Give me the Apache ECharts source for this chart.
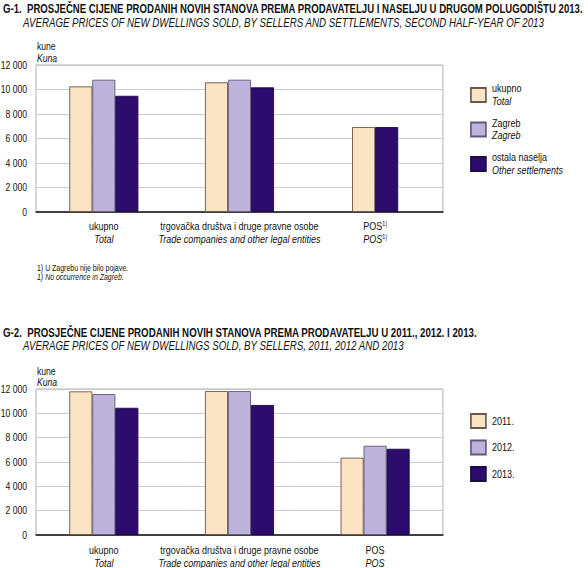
<!DOCTYPE html>
<html>
<head>
<meta charset="utf-8">
<script src="https://cdn.jsdelivr.net/npm/echarts@6/dist/echarts.min.js"></script>
<style>
html,body{margin:0;padding:0;background:#fff;overflow:hidden;width:588px;height:568px;}
#c{width:717px;height:568px;transform:scaleX(0.82);transform-origin:0 0;}
</style>
</head>
<body>
<div id="c"></div>
<script>
// ---- data ----
const categoriesHr = ['ukupno', 'trgovačka društva i druge pravne osobe', 'POS'];
const categoriesEn = ['Total', 'Trade companies and other legal entities', 'POS'];

// G-1: second half-year 2013, by settlements
const g1SeriesHr = ['ukupno', 'Zagreb', 'ostala naselja'];
const g1SeriesEn = ['Total', 'Zagreb', 'Other settlements'];
const g1Total = [10260, 10590, 6940];
const g1Zagreb = [10800, 10800, null]; // 1) no occurrence in Zagreb
const g1Other = [9490, 10180, 6940];

// G-2: by years
const g2Years = ['2011.', '2012.', '2013.'];
const g2Y2011 = [11810, 11840, 6360];
const g2Y2012 = [11590, 11840, 7340];
const g2Y2013 = [10460, 10690, 7090];

const yTicks = [0, 2000, 4000, 6000, 8000, 10000, 12000];

// ---- styles ----
// The page is drawn at a wider width and narrowed horizontally (narrow typeface look)
const S = 0.82;
const X = px => px / S;
const FONT = "'Liberation Sans',Arial,sans-serif";
const fills = ['#fbe4c4', '#beb3da', '#2c0c6c'];
const borders = ['#6a5848', '#625878', '#1c0a44'];

const chart = echarts.init(document.getElementById('c'), null, {renderer: 'svg'});

function yAxisDef(gi) {
  return {
    type: 'value', gridIndex: gi, min: yTicks[0], max: yTicks[yTicks.length - 1], interval: 2000,
    axisLine: {show: false}, axisTick: {show: false},
    splitLine: {lineStyle: {color: '#c8c8c8', width: 1}},
    axisLabel: {
      margin: X(9), color: '#111', fontFamily: FONT, fontSize: 10.5,
      formatter: v => v >= 1000 ? Math.floor(v / 1000) + ' ' + String(v % 1000).padStart(3, '0') : String(v)
    }
  };
}

function catLabel(sup, margin) {
  return {
    interval: 0, margin: margin, color: '#111', fontFamily: FONT, lineHeight: 13,
    formatter: (v, i) => {
      const s = (sup && i === 2) ? '{s|1)}' : '';
      return '{a|' + categoriesHr[i] + '}' + s + '\n{b|' + categoriesEn[i] + '}' + s;
    },
    rich: {
      a: {fontFamily: FONT, fontSize: 11, color: '#111', lineHeight: 13},
      b: {fontFamily: FONT, fontSize: 11, fontStyle: 'italic', color: '#111', lineHeight: 13},
      s: {fontFamily: FONT, fontSize: 6.5, color: '#111', verticalAlign: 'top', lineHeight: 13, padding: [0, 0, 6, 0]}
    }
  };
}

function xAxisDef(gi, show, sup, margin) {
  return {
    type: 'category', gridIndex: gi, data: categoriesHr, show: show,
    axisLine: {lineStyle: {color: '#111', width: 1.5}}, axisTick: {show: false},
    axisLabel: catLabel(sup, margin)
  };
}

function bar(name, data, idx, xi, yi) {
  return {
    type: 'bar', name: name, data: data, xAxisIndex: xi, yAxisIndex: yi,
    barWidth: X(23), barGap: '0%',
    itemStyle: {color: fills[idx], borderColor: borders[idx], borderWidth: 1},
    emphasis: {disabled: true}, silent: true, animation: false
  };
}

const g1Arrays = [g1Total, g1Zagreb, g1Other];
const series = [];
// G-1: first two categories, three series on axis 0
g1Arrays.forEach((arr, i) => {
  series.push(bar(g1SeriesHr[i], arr.map((v, k) => k < 2 ? v : null), i, 0, 0));
});
// G-1: POS, only series with values, on an overlay axis so the pair is centred
g1Arrays.forEach((arr, i) => {
  if (arr[2] != null) series.push(bar(g1SeriesHr[i], arr.map((v, k) => k === 2 ? v : null), i, 1, 0));
});
// G-2
[g2Y2011, g2Y2012, g2Y2013].forEach((arr, i) => series.push(bar(g2Years[i], arr, i, 2, 1)));

const enMap = {};
g1SeriesHr.forEach((n, i) => enMap[n] = g1SeriesEn[i]);

function txt(x, y, text, size, weight, style, sx) {
  return {type: 'text', x: X(x), y: y, scaleX: sx || 1, silent: true,
    style: {text: text, fontFamily: FONT, fontSize: size, fontWeight: weight || 'normal', fontStyle: style || 'normal', fill: '#111'}};
}

chart.setOption({
  animation: false,
  backgroundColor: '#fff',
  grid: [
    {left: X(36), top: 65, right: X(145), bottom: 356, show: true, borderColor: '#a8a8a8', borderWidth: 1, backgroundColor: 'transparent', containLabel: false, outerBoundsMode: 'none'},
    {left: X(36), top: 389, right: X(145), bottom: 33, show: true, borderColor: '#a8a8a8', borderWidth: 1, backgroundColor: 'transparent', containLabel: false, outerBoundsMode: 'none'}
  ],
  xAxis: [xAxisDef(0, true, true, 8), xAxisDef(0, false, false, 8), xAxisDef(1, true, false, 8.5)],
  yAxis: [yAxisDef(0), yAxisDef(1)],
  legend: [
    {
      data: g1SeriesHr, orient: 'vertical', left: X(466), top: 78, itemWidth: X(15), itemHeight: 14, itemGap: 11,
      selectedMode: false, icon: 'rect',
      formatter: n => '{a|' + n + '}\n{b|' + enMap[n] + '}',
      textStyle: {
        padding: [0, 0, 0, X(2)],
        rich: {
          a: {fontFamily: FONT, fontSize: 11, color: '#111', lineHeight: 12},
          b: {fontFamily: FONT, fontSize: 11, fontStyle: 'italic', color: '#111', lineHeight: 13}
        }
      }
    },
    {
      data: g2Years, orient: 'vertical', left: X(466), top: 408, itemWidth: X(15), itemHeight: 14, itemGap: 10.5,
      selectedMode: false, icon: 'rect',
      textStyle: {fontFamily: FONT, fontSize: 11, color: '#111', padding: [0, 0, 0, X(2)]}
    }
  ],
  graphic: [
    txt(3, 3, 'G-1.  PROSJEČNE CIJENE PRODANIH NOVIH STANOVA PREMA PRODAVATELJU I NASELJU U DRUGOM POLUGODIŠTU 2013.', 12, 'bold', 'normal', 0.8 / S),
    txt(23, 17, 'AVERAGE PRICES OF NEW DWELLINGS SOLD, BY SELLERS AND SETTLEMENTS, SECOND HALF-YEAR OF 2013', 12, 'normal', 'italic', 0.81 / S),
    txt(37, 41, 'kune', 10.5),
    txt(37, 53, 'Kuna', 10.5, 'normal', 'italic'),
    txt(37, 264, '1) U Zagrebu nije bilo pojave.', 8.5),
    txt(37, 273, '1) No occurrence in Zagreb.', 8.5, 'normal', 'italic'),
    txt(3, 327, 'G-2.  PROSJEČNE CIJENE PRODANIH NOVIH STANOVA PREMA PRODAVATELJU U 2011., 2012. I 2013.', 12, 'bold', 'normal', 0.81 / S),
    txt(23, 340, 'AVERAGE PRICES OF NEW DWELLINGS SOLD, BY SELLERS, 2011, 2012 AND 2013', 12, 'normal', 'italic', 0.81 / S),
    txt(37, 366, 'kune', 10.5),
    txt(37, 377, 'Kuna', 10.5, 'normal', 'italic')
  ],
  series: series
});
</script>
</body>
</html>
